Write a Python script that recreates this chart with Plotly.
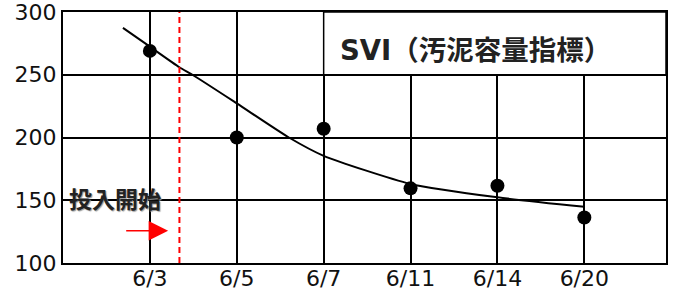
import plotly.graph_objects as go

# ---- data ----
dates = ["6/3", "6/5", "6/7", "6/11", "6/14", "6/20"]
svi_values = [269, 200, 207, 159.5, 161.5, 136.3]

# trend curve (position on the category axis, value)
trend_pos = [0.69, 1.0, 1.34, 1.49, 2.0, 2.6, 3.0, 4.0, 5.0, 6.0]
trend_val = [287.4, 272.4, 256, 250, 227.2, 200, 185.4, 163, 152.3, 144.8]

y_ticks = [100, 150, 200, 250, 300]
title_text = "SVI（汚泥容量指標）"
start_label = "投入開始"
start_pos = 1.34          # dosing start, between 6/3 and 6/5
arrow_tail, arrow_tip, arrow_val = 0.71, 1.21, 125.7

positions = list(range(1, len(dates) + 1))
x_max = 6.94

fig = go.Figure()

fig.add_trace(go.Scatter(
    x=trend_pos, y=trend_val, mode="lines",
    line=dict(color="black", width=2, shape="spline", smoothing=0.6),
    hoverinfo="skip", showlegend=False,
))
fig.add_trace(go.Scatter(
    x=positions, y=svi_values, mode="markers",
    marker=dict(color="black", size=14),
    showlegend=False,
))

# dosing start dashed line
fig.add_shape(type="line", xref="x", yref="y",
              x0=start_pos, x1=start_pos, y0=y_ticks[0], y1=y_ticks[-1],
              line=dict(color="#FF0000", width=2, dash="6px,4px"), layer="above")

# title box
fig.add_shape(type="rect", xref="x", yref="y",
              x0=3, x1=x_max, y0=250, y1=300,
              fillcolor="white", line=dict(color="black", width=1.5), layer="above")
fig.add_annotation(x=3.17, y=270, xref="x", yref="y", xanchor="left",
                   text="<b>" + title_text + "</b>", showarrow=False,
                   font=dict(family="DejaVu Sans, Noto Sans CJK JP", size=27.5, color="#222"))

# start label
fig.add_annotation(x=0.6, y=151.5, xref="x", yref="y",
                   text="<b>" + start_label + "</b>", showarrow=False,
                   font=dict(family="Noto Sans CJK JP", size=23, color="#222",
                             shadow="1px 1px 1px #999"))

# red arrow
fig.add_annotation(x=arrow_tip, y=arrow_val, ax=arrow_tail, ay=arrow_val,
                   xref="x", yref="y", axref="x", ayref="y",
                   text="", showarrow=True, arrowhead=2, arrowsize=2.6,
                   arrowwidth=1.5, arrowcolor="#FF0000", standoff=0, startstandoff=0)

fig.update_xaxes(
    range=[0, x_max], tickvals=positions, ticktext=dates,
    showgrid=True, gridcolor="black", gridwidth=2,
    showline=True, linecolor="black", linewidth=2, mirror=True,
    zeroline=False, ticks="", automargin=False, ticklabeloverflow="allow",
    ticklabelstandoff=-5,
    tickfont=dict(family="DejaVu Sans", size=22, color="#111"),
)
fig.update_yaxes(
    range=[y_ticks[0], y_ticks[-1]], tickvals=y_ticks,
    showgrid=True, gridcolor="black", gridwidth=2,
    showline=True, linecolor="black", linewidth=2, mirror=True,
    zeroline=False, ticks="", automargin=False, ticklabeloverflow="allow",
    tickfont=dict(family="DejaVu Sans", size=22, color="#111"),
)

fig.update_layout(
    width=676, height=291,
    margin=dict(l=63, r=10, t=12, b=28),
    plot_bgcolor="white", paper_bgcolor="white",
    showlegend=False,
)

fig.write_html("out.html", config={"displayModeBar": False},
               post_script="document.body.style.margin='0';")
